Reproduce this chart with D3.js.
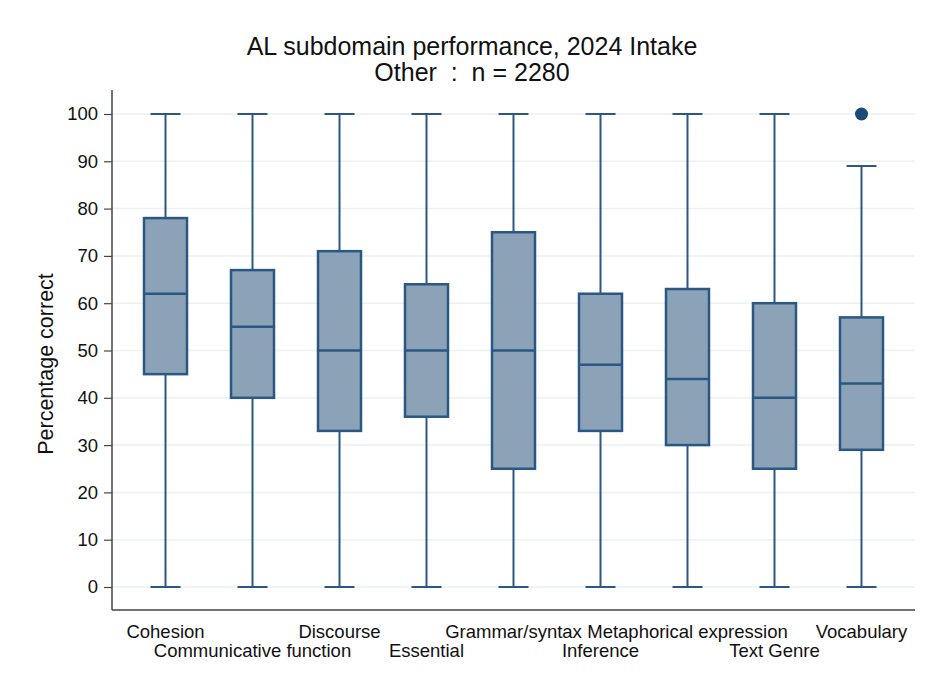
<!DOCTYPE html>
<html>
<head>
<meta charset="utf-8">
<script src="https://cdn.jsdelivr.net/npm/d3@7"></script>
<style>
  html, body { margin: 0; padding: 0; background: #fff; }
  svg { display: block; font-family: "Liberation Sans", Arial, sans-serif; }
</style>
</head>
<body>
<svg id="chart" width="928" height="686"></svg>
<script>
// Subdomain names, in axis order
const categories = ["Cohesion", "Communicative function", "Discourse", "Essential",
  "Grammar/syntax", "Inference", "Metaphorical expression", "Text Genre", "Vocabulary"];

// Five-number summaries (percentage correct)
const lowerWhisker = [0, 0, 0, 0, 0, 0, 0, 0, 0];
const q1 =           [45, 40, 33, 36, 25, 33, 30, 25, 29];
const median =       [62, 55, 50, 50, 50, 47, 44, 40, 43];
const q3 =           [78, 67, 71, 64, 75, 62, 63, 60, 57];
const upperWhisker = [100, 100, 100, 100, 100, 100, 100, 100, 89];
// Outside values
const outliers = [{ cat: "Vocabulary", value: 100 }];

const yTicks = [0, 10, 20, 30, 40, 50, 60, 70, 80, 90, 100];

const boxes = categories.map((c, i) => ({
  cat: c, lo: lowerWhisker[i], q1: q1[i], med: median[i], q3: q3[i], hi: upperWhisker[i]
}));

const svg = d3.select("#chart");
const plotLeft = 112, plotRight = 915, plotTop = 90, plotBottom = 610;

const x = d3.scalePoint().domain(categories).range([plotLeft, plotRight]).padding(0.615);
const y = d3.scaleLinear().domain([0, 100]).range([587, 114]);

const stroke = "#2a5783";
const fill = "#8ca3b7";

// Gridlines
svg.append("g").selectAll("line").data(yTicks).join("line")
  .attr("x1", plotLeft).attr("x2", plotRight)
  .attr("y1", d => y(d)).attr("y2", d => y(d))
  .attr("stroke", "#eaf2f3").attr("stroke-width", 1.5);

// Y axis
const yAxis = svg.append("g").attr("transform", `translate(${plotLeft},0)`)
  .call(d3.axisLeft(y).tickValues(yTicks).tickSize(8).tickPadding(6).tickSizeOuter(0));
yAxis.select(".domain").remove();
yAxis.selectAll(".tick line").attr("stroke", "#444").attr("stroke-width", 1.2);
yAxis.selectAll(".tick text").attr("font-size", 18.5).attr("fill", "#111")
  .attr("font-family", "'Liberation Sans', Arial, sans-serif");
svg.append("line").attr("x1", plotLeft).attr("x2", plotLeft).attr("y1", plotTop).attr("y2", plotBottom)
  .attr("stroke", "#444").attr("stroke-width", 1.5);

// X axis line and staggered labels
svg.append("line").attr("x1", plotLeft).attr("x2", plotRight).attr("y1", plotBottom).attr("y2", plotBottom)
  .attr("stroke", "#444").attr("stroke-width", 1.5);
svg.append("g").selectAll("text").data(categories).join("text")
  .attr("x", d => x(d))
  .attr("y", (d, i) => i % 2 === 0 ? 638 : 657)
  .attr("text-anchor", "middle")
  .attr("font-size", 18.5).attr("fill", "#111")
  .text(d => d);

// Boxes
const bw = 43, cap = 30;
const g = svg.append("g").selectAll("g").data(boxes).join("g")
  .attr("transform", d => `translate(${x(d.cat)},0)`);

g.append("line").attr("x1", 0).attr("x2", 0)
  .attr("y1", d => y(d.hi)).attr("y2", d => y(d.q3))
  .attr("stroke", stroke).attr("stroke-width", 2);
g.append("line").attr("x1", 0).attr("x2", 0)
  .attr("y1", d => y(d.q1)).attr("y2", d => y(d.lo))
  .attr("stroke", stroke).attr("stroke-width", 2);
g.append("line").attr("x1", -cap / 2).attr("x2", cap / 2)
  .attr("y1", d => y(d.hi)).attr("y2", d => y(d.hi))
  .attr("stroke", stroke).attr("stroke-width", 2);
g.append("line").attr("x1", -cap / 2).attr("x2", cap / 2)
  .attr("y1", d => y(d.lo)).attr("y2", d => y(d.lo))
  .attr("stroke", stroke).attr("stroke-width", 2);
g.append("rect").attr("x", -bw / 2).attr("width", bw)
  .attr("y", d => y(d.q3)).attr("height", d => y(d.q1) - y(d.q3))
  .attr("fill", fill).attr("stroke", stroke).attr("stroke-width", 2.5);
g.append("line").attr("x1", -bw / 2).attr("x2", bw / 2)
  .attr("y1", d => y(d.med)).attr("y2", d => y(d.med))
  .attr("stroke", stroke).attr("stroke-width", 2.5);

// Outside values
svg.append("g").selectAll("circle").data(outliers).join("circle")
  .attr("cx", d => x(d.cat)).attr("cy", d => y(d.value)).attr("r", 6.5)
  .attr("fill", "#1a4a78");

// Y axis title
svg.append("text")
  .attr("transform", `translate(53,364) rotate(-90)`)
  .attr("text-anchor", "middle").attr("font-size", 21.5).attr("fill", "#111")
  .text("Percentage correct");

// Title
svg.append("text").attr("x", 472).attr("y", 55).attr("text-anchor", "middle")
  .attr("font-size", 25).attr("fill", "#111")
  .text("AL subdomain performance, 2024 Intake");
svg.append("text").attr("x", 472).attr("y", 81).attr("text-anchor", "middle")
  .attr("font-size", 25).attr("fill", "#111")
  .style("white-space", "pre")
  .text("Other  :  n = 2280");
</script>
</body>
</html>
